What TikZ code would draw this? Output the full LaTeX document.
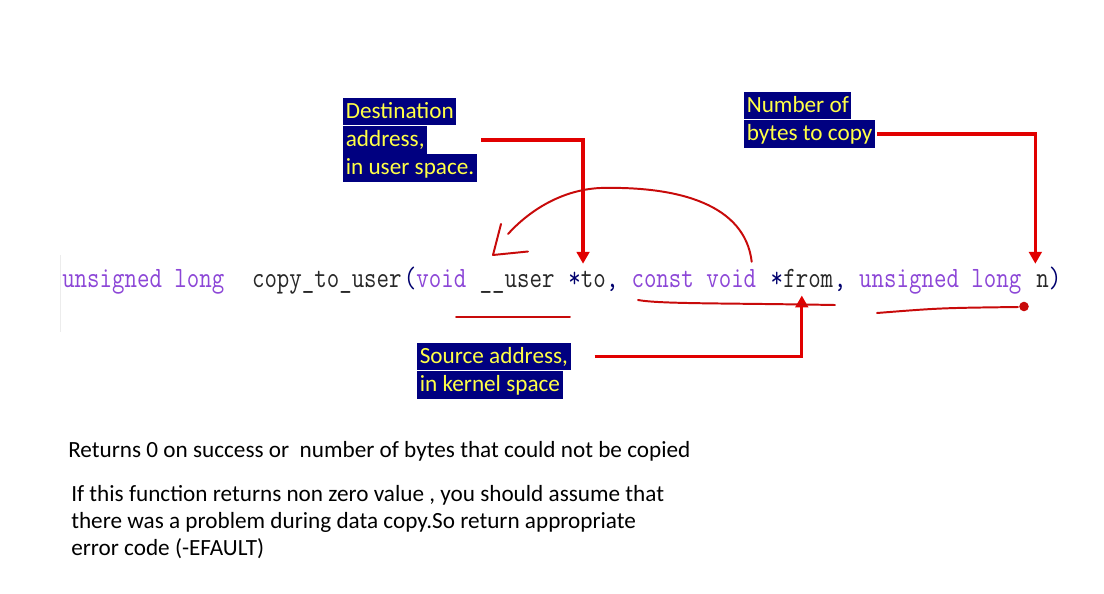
\documentclass[tikz,border=0pt]{standalone}
\usepackage{fontspec}
\setmainfont{Carlito}
\newfontfamily\codefont{Latin Modern Mono}[FakeStretch=0.82]
\usetikzlibrary{positioning,arrows.meta}

\definecolor{kwpurple}{RGB}{140,70,215}
\definecolor{idblack}{RGB}{40,40,40}
\definecolor{pnnavy}{RGB}{0,0,110}
\definecolor{boxnavy}{RGB}{0,0,128}
\definecolor{labelyellow}{RGB}{255,255,70}
\definecolor{calloutred}{RGB}{225,0,0}
\definecolor{handred}{RGB}{200,10,10}

\newcommand{\codex}{62}
\newcommand{\codey}{287.5}
\newcommand{\colw}{12.65}

\begin{document}
\begin{tikzpicture}[
		x=0.7113pt, y=-0.7113pt,
		code/.style = {
			anchor=base west, inner sep=0pt,
			text height=12pt, text depth=5.5pt,
			font=\codefont\fontsize{21}{24}\selectfont,
			text=idblack
		},
		kw/.style = {code, text=kwpurple},
		pn/.style = {code, text=pnnavy},
		label/.style = {
			fill=boxnavy, text=labelyellow,
			inner xsep=1.8pt, inner ysep=0pt,
			text height=14.5pt, text depth=5.3pt,
			font=\fontsize{16.5}{19.9}\selectfont
		},
		note/.style = {anchor=base west, inner sep=0pt, font=\fontsize{16.5}{19.2}\selectfont},
		callout/.style = {draw=calloutred, line width=2.4pt, -{Triangle[length=8.5pt,width=9pt]}},
		hand/.style = {draw=handred, line width=1.4pt, line cap=round, line join=round}
		]
		\fill[white] (0,0) rectangle (1104,593);
		\useasboundingbox (0,0) rectangle (1104,593);
		\draw[gray!15, line width=0.7pt] (60.5,255) -- (60.5,332);

		% the prototype, one node per token on a monospace grid
		\node[kw] (ret) at ({\codex+0*\colw},\codey) {unsigned long};
		\node[code] (fname) at ({\codex+15*\colw},\codey) {copy\_to\_user};
		\node[pn] (lpar) at ({\codex+27*\colw},\codey) {(};
		\node[kw] (void1) at ({\codex+28*\colw},\codey) {void};
		\node[code] (user) at ({\codex+33*\colw},\codey) {\_\_user};
		\node[pn] (star1) at ({\codex+40*\colw},\codey) {*};
		\node[code] (to) at ({\codex+41*\colw},\codey) {to};
		\node[pn] (comma1) at ({\codex+43*\colw},\codey) {,};
		\node[kw] (cvoid) at ({\codex+45*\colw},\codey) {const void};
		\node[pn] (star2) at ({\codex+56*\colw},\codey) {*};
		\node[code] (from) at ({\codex+57*\colw},\codey) {from};
		\node[pn] (comma2) at ({\codex+61*\colw},\codey) {,};
		\node[kw] (ulong) at ({\codex+63*\colw},\codey) {unsigned long};
		\node[code] (n) at ({\codex+77*\colw},\codey) {n};
		\node[pn] (rpar) at ({\codex+78*\colw},\codey) {)};

		% highlighted labels
		\node[label, anchor=base west] (dest1) at (343,118) {Destination};
		\node[label, below right=0pt and 0pt of dest1.south west] (dest2) {address,};
		\node[label, below right=0pt and 0pt of dest2.south west] (dest3) {in user space.};
		\node[label, anchor=base west] (num1) at (744,112) {Number of};
		\node[label, below right=0pt and 0pt of num1.south west] (num2) {bytes to copy};
		\node[label, anchor=base west] (src1) at (417,363) {Source address,};
		\node[label, below right=0pt and 0pt of src1.south west] (src2) {in kernel space};

		\draw[callout] ([xshift=3pt]dest3.east |- dest2.east) -| ([xshift=1.7pt,yshift=4.7pt]to.north west);
		\draw[callout] ([xshift=1.5pt]num2.east) -| ([xshift=-0.5pt,yshift=4.7pt]n.north west);
		\draw[callout] ([xshift=17pt]src1.east) -| ([xshift=-4.6pt]from.south);

		% hand drawn marks
		\draw[hand] ([xshift=-3.4pt,yshift=6.1pt]cvoid.north east) .. controls (745,205) and (680,186) .. (600,188)
			.. controls (560,190) and (528,212) .. (508,234);
		\draw[hand] (501,224) -- (493,255) -- (528,251.5);
		\draw[hand] (456,317) -- (570,317);
		\draw[hand] (638,300) .. controls (660,304) and (720,303) .. (835,305);
		\draw[hand] (877,313) .. controls (940,308) .. (1018,307);
		\fill[handred] (1024,306.5) circle (3.4pt);

		% notes below
		\node[note] (ret0) at (68,457) {Returns 0 on success or~ number of bytes that could not be copied};
		\node[note] (fail1) at (71,501) {If this function returns non zero value , you should assume that};
		\node[note] (fail2) at (71,528) {there was a problem during data copy.So return appropriate};
		\node[note] (fail3) at (71,555) {error code (-EFAULT)};
	\end{tikzpicture}
\end{document}
